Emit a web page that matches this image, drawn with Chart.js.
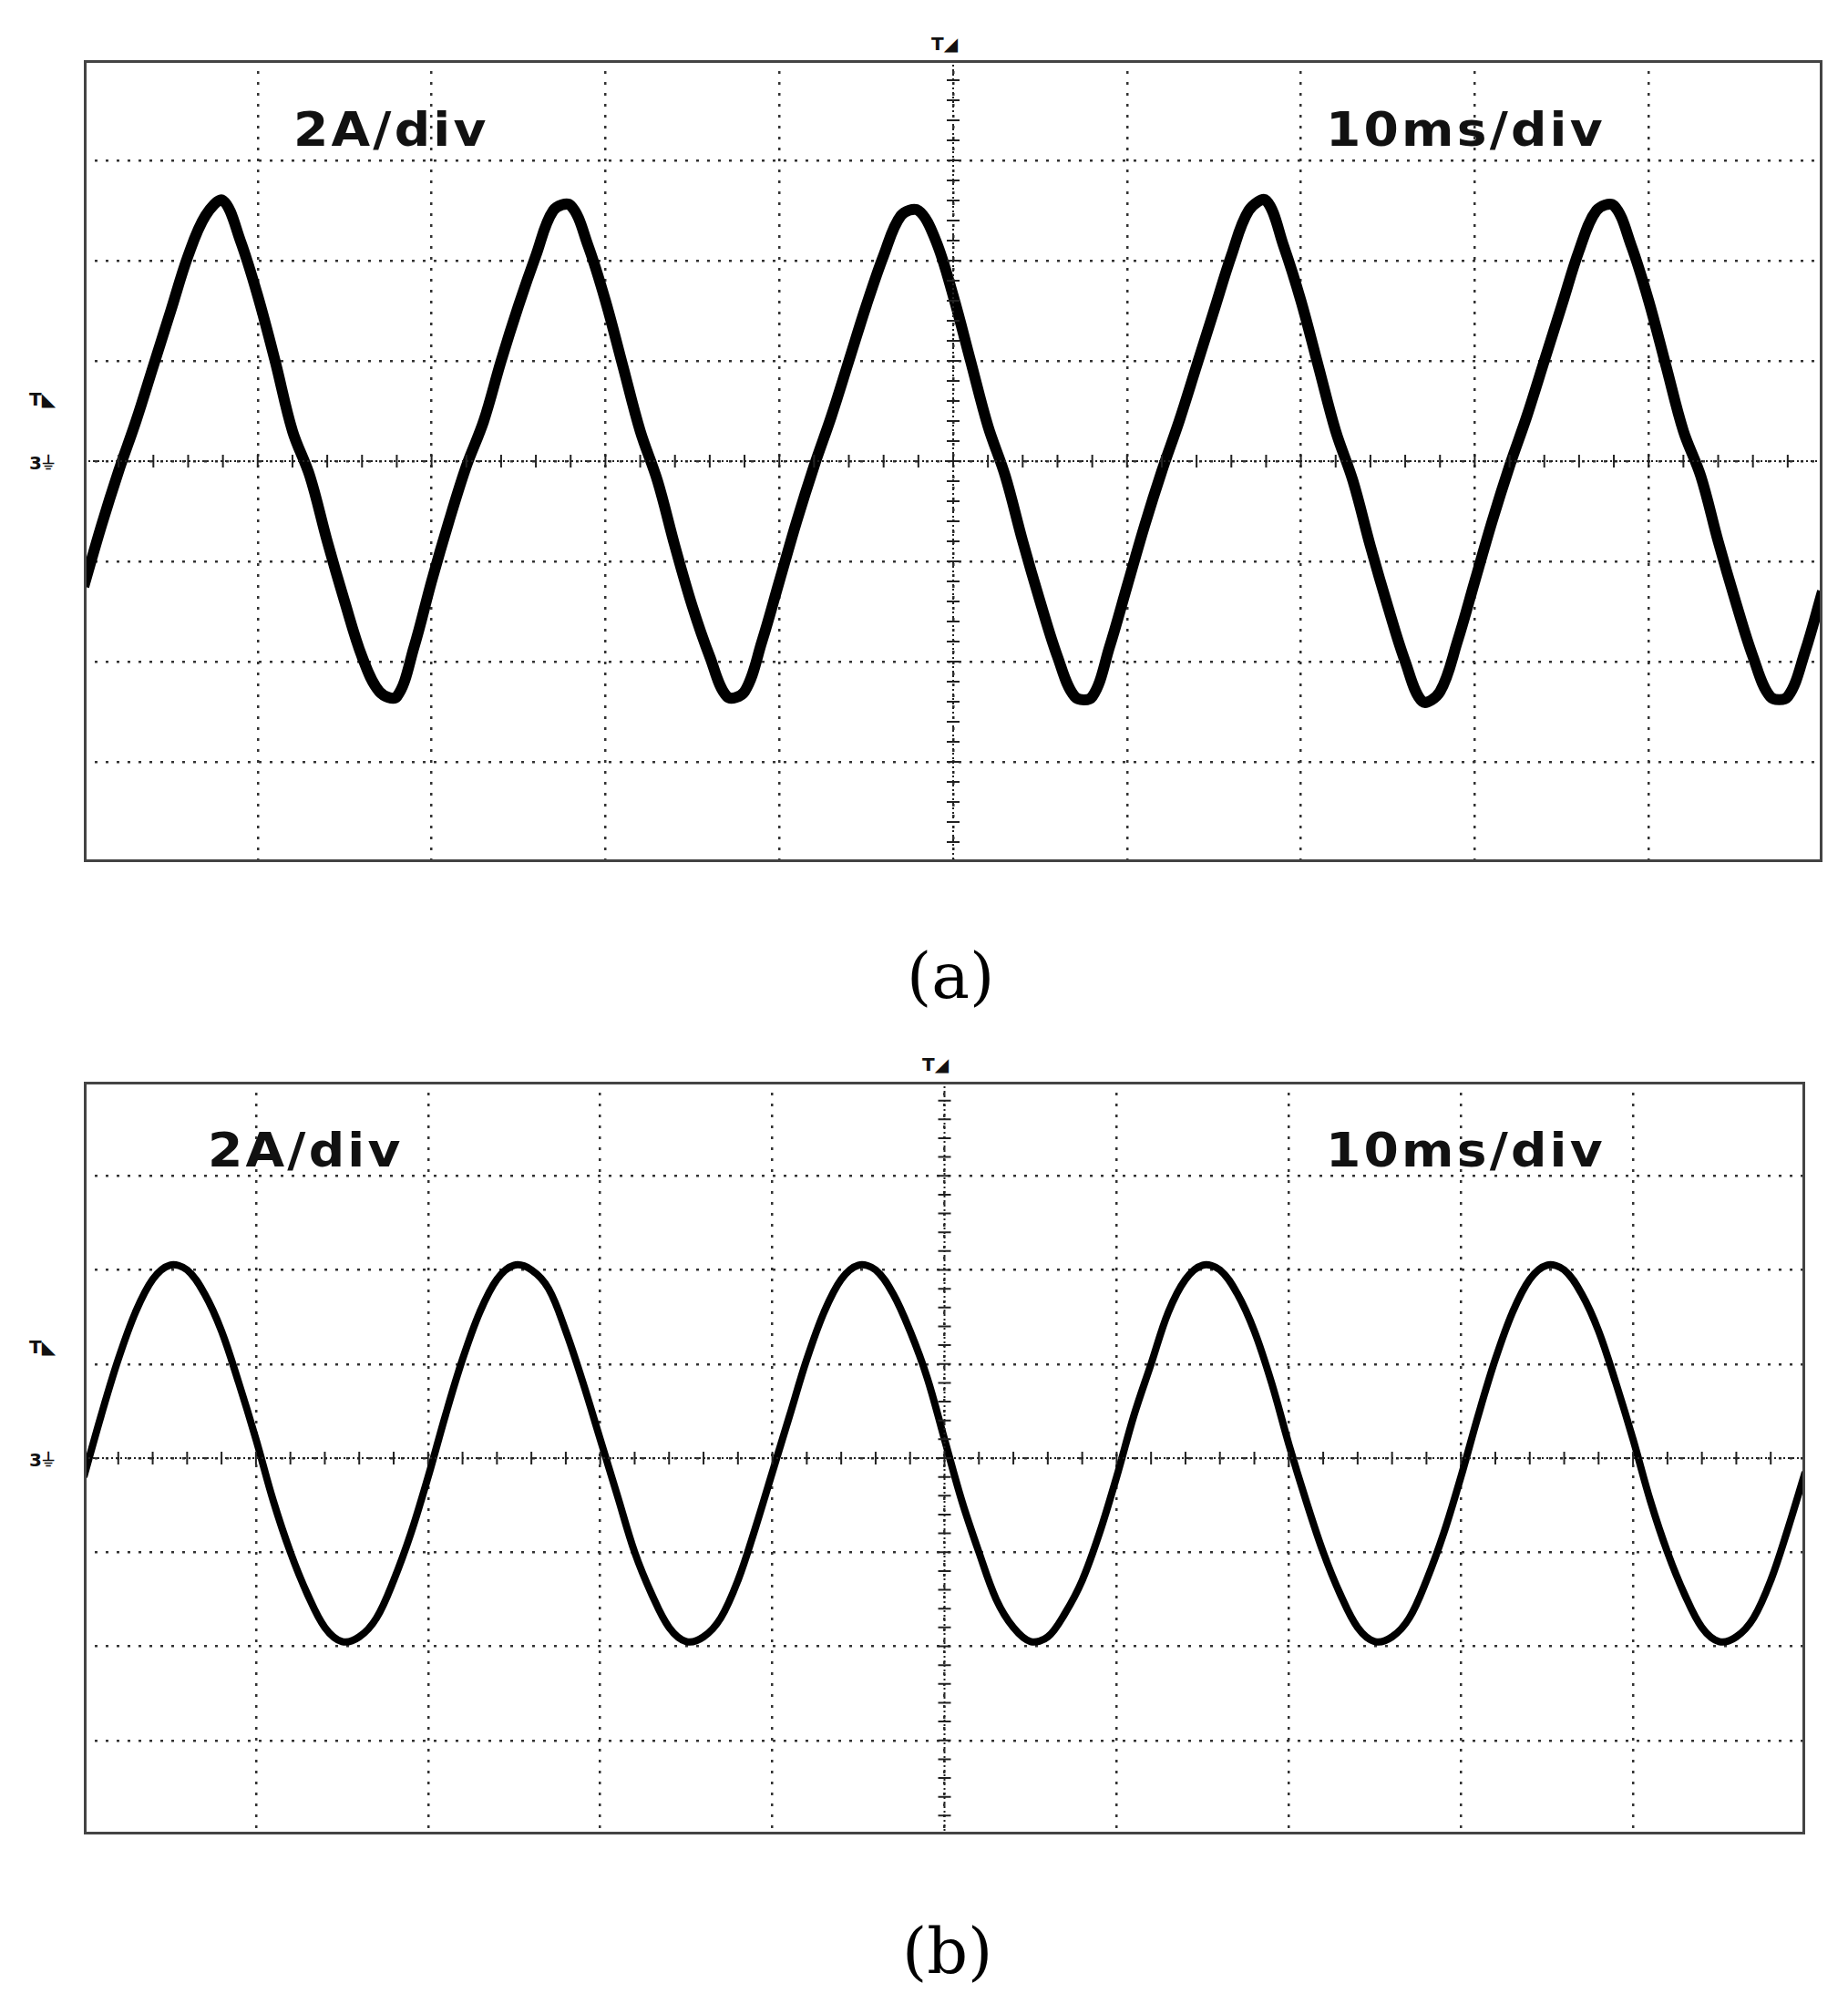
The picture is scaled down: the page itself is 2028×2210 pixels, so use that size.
<!DOCTYPE html>
<html><head><meta charset="utf-8">
<script src="https://cdn.jsdelivr.net/npm/chart.js@4/dist/chart.umd.min.js"></script>
<style>
html,body{margin:0;padding:0;background:#fff;width:2028px;height:2210px;overflow:hidden;position:relative;font-family:"DejaVu Sans",sans-serif}
.box{position:absolute}
.lbl{position:absolute;font-weight:bold;font-size:52px;letter-spacing:3px;color:#111;transform:scaleX(1.06);transform-origin:left center}
.cap{position:absolute;font-family:"DejaVu Serif","Liberation Serif",serif;font-size:70px;color:#000}
.mk{position:absolute;font-size:20px;font-weight:bold;color:#111}
</style></head><body>
<div class="box" style="left:92px;top:66px;width:1908px;height:880px"><canvas id="ca"></canvas></div>
<div class="box" style="left:92px;top:1187px;width:1889px;height:826px"><canvas id="cb"></canvas></div>
<div class="lbl" style="left:322px;top:112px">2A/div</div>
<div class="lbl" style="left:1455px;top:112px">10ms/div</div>
<div class="lbl" style="left:228px;top:1232px">2A/div</div>
<div class="lbl" style="left:1455px;top:1232px">10ms/div</div>
<div class="cap" style="left:995px;top:1030px">(a)</div>
<div class="cap" style="left:990px;top:2100px">(b)</div>
<div class="mk" style="left:1022px;top:36px">T◢</div>
<div class="mk" style="left:1012px;top:1156px">T◢</div>
<div class="mk" style="left:32px;top:426px">T◣</div>
<div class="mk" style="left:32px;top:1466px">T◣</div>
<div class="mk" style="left:32px;top:496px">3⏚</div>
<div class="mk" style="left:32px;top:1590px">3⏚</div>
<script>
// time axis (ms), 10 ms/div
const timeMs = Array.from({length:101},(_, i)=>i);
const xTicks = [0,10,20,30,40,50,60,70,80,90,100];
const yTicks = [-8,-6,-4,-2,0,2,4,6,8];
// panel (a) current, A
const currentA = [
-2.5,-1.3,-0.2,0.8,1.9,3.0,4.1,4.9,5.2,4.4,3.3,2.0,0.6,-0.3,-1.6,-2.8,-3.9,-4.6,-4.7,-3.7,
-2.4,-1.2,-0.1,0.8,2.0,3.1,4.1,5.0,5.1,4.3,3.2,1.9,0.6,-0.4,-1.7,-2.9,-3.9,-4.7,-4.6,-3.6,
-2.4,-1.2,-0.1,0.9,2.0,3.1,4.1,4.9,5.0,4.4,3.3,2.0,0.7,-0.3,-1.6,-2.8,-3.9,-4.7,-4.7,-3.7,
-2.5,-1.3,-0.2,0.8,1.9,3.0,4.1,5.0,5.2,4.3,3.2,1.9,0.6,-0.4,-1.7,-2.9,-4.0,-4.8,-4.6,-3.6,
-2.4,-1.2,-0.1,0.9,2.0,3.1,4.2,5.0,5.1,4.3,3.2,1.9,0.6,-0.3,-1.6,-2.8,-3.9,-4.7,-4.7,-3.8,
-2.6];
// panel (b) current, A
const currentB = [
-0.4,0.9,2.1,3.1,3.8,4.1,4.0,3.5,2.7,1.6,0.4,-0.9,-2.0,-2.9,-3.6,-3.9,-3.8,-3.4,-2.6,-1.6,
-0.4,0.9,2.1,3.1,3.8,4.1,4.0,3.6,2.7,1.6,0.4,-0.8,-2.0,-2.9,-3.6,-3.9,-3.8,-3.4,-2.6,-1.5,
-0.3,0.9,2.1,3.1,3.8,4.1,4.0,3.5,2.7,1.7,0.4,-0.9,-2.0,-3.0,-3.6,-3.9,-3.8,-3.3,-2.6,-1.6,
-0.4,0.9,2.0,3.1,3.8,4.1,4.0,3.5,2.7,1.6,0.3,-0.9,-2.0,-2.9,-3.6,-3.9,-3.8,-3.4,-2.6,-1.6,
-0.4,0.9,2.1,3.1,3.8,4.1,4.0,3.5,2.7,1.6,0.4,-0.9,-2.0,-2.9,-3.6,-3.9,-3.8,-3.4,-2.6,-1.5,
-0.3];

const centerTicks = {
  id:'centerTicks',
  afterDatasetsDraw(chart){
    const {ctx, scales:{x,y}} = chart;
    ctx.save(); ctx.strokeStyle='#222'; ctx.lineWidth=2;
    const cx = x.getPixelForValue(50), cy = y.getPixelForValue(0);
    ctx.setLineDash([2,3]);
    ctx.beginPath(); ctx.moveTo(cx,y.top); ctx.lineTo(cx,y.bottom);
    ctx.moveTo(x.left,cy); ctx.lineTo(x.right,cy); ctx.stroke();
    ctx.setLineDash([]);
    ctx.beginPath();
    for(let v=-8; v<=8.001; v+=0.4){const p=y.getPixelForValue(v); ctx.moveTo(cx-7,p); ctx.lineTo(cx+7,p);}
    for(let t=0; t<=100.001; t+=2){const p=x.getPixelForValue(t); ctx.moveTo(p,cy-7); ctx.lineTo(p,cy+7);}
    ctx.stroke(); ctx.restore();
  }
};
const frame = {id:'frame', afterDraw(c){const a=c.chartArea,ctx=c.ctx;ctx.save();ctx.strokeStyle='#444';ctx.lineWidth=3;ctx.setLineDash([]);ctx.strokeRect(a.left+1.5,a.top+1.5,a.width-3,a.height-3);ctx.restore();}};

function make(id, vals, w){
  new Chart(document.getElementById(id), {
    type:'line',
    data:{datasets:[{data: timeMs.map((t,i)=>({x:t,y:vals[i]})), borderColor:'#000', borderWidth:w, pointRadius:0, tension:0.35, fill:false}]},
    options:{
      responsive:true, maintainAspectRatio:false, animation:false,
      layout:{padding:0},
      plugins:{legend:{display:false}, tooltip:{enabled:false}},
      scales:{
        x:{type:'linear', min:0, max:100, afterBuildTicks:s=>{s.ticks=xTicks.map(v=>({value:v}));},
           ticks:{display:false}, border:{display:false, dash:[3,9]},
           grid:{drawTicks:false,color:'#333',lineWidth:2.5}},
        y:{type:'linear', min:-8, max:8, afterBuildTicks:s=>{s.ticks=yTicks.map(v=>({value:v}));},
           ticks:{display:false}, border:{display:false, dash:[3,9]},
           grid:{drawTicks:false,color:'#333',lineWidth:2.5}}
      }
    },
    plugins:[centerTicks, frame]
  });
}
make('ca', currentA, 12);
make('cb', currentB, 8);
</script>
</body></html>
